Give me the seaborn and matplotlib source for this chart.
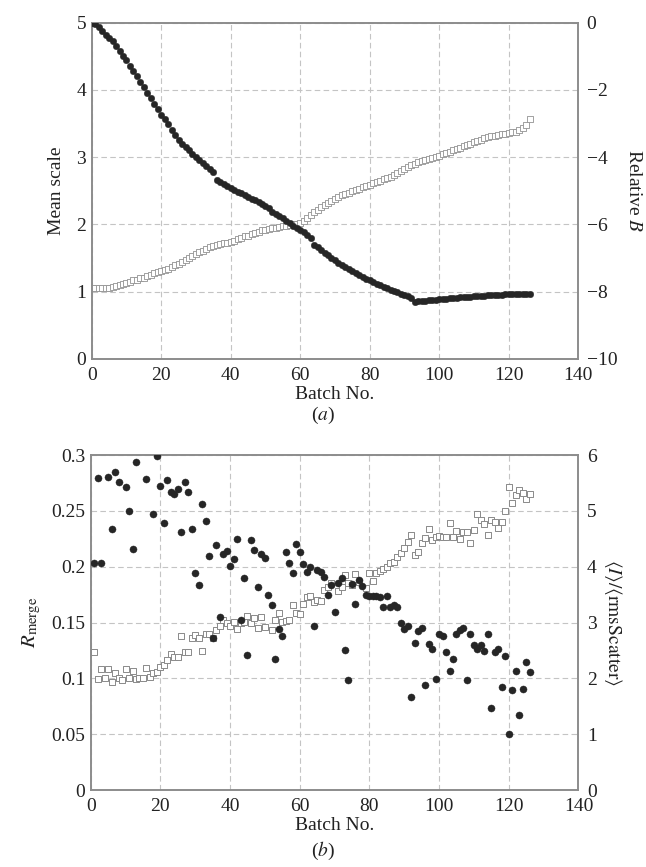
import matplotlib
matplotlib.use("Agg")
import matplotlib.pyplot as plt
import seaborn as sns

# ---- panel (a): mean scale (open squares, left) and relative B (filled circles, right)
batch_a = list(range(127))

mean_scale = [
    1.05, 1.05, 1.05, 1.05, 1.05, 1.06, 1.07, 1.08, 1.10, 1.11,
    1.13, 1.15, 1.17, 1.18, 1.20, 1.21, 1.23, 1.25, 1.27, 1.29,
    1.30, 1.32, 1.34, 1.37, 1.39, 1.41, 1.44, 1.47, 1.50, 1.53,
    1.56, 1.59, 1.61, 1.64, 1.67, 1.68, 1.70, 1.71, 1.72, 1.73,
    1.74, 1.76, 1.78, 1.80, 1.82, 1.83, 1.85, 1.87, 1.89, 1.91,
    1.92, 1.93, 1.94, 1.95, 1.96, 1.97, 1.98, 1.99, 2.00, 2.01,
    2.02, 2.05, 2.09, 2.14, 2.18, 2.22, 2.26, 2.29, 2.32, 2.35,
    2.38, 2.41, 2.43, 2.45, 2.47, 2.49, 2.51, 2.53, 2.55, 2.57,
    2.59, 2.61, 2.63, 2.65, 2.67, 2.69, 2.71, 2.74, 2.77, 2.80,
    2.83, 2.86, 2.88, 2.90, 2.92, 2.94, 2.96, 2.97, 2.99, 3.00,
    3.02, 3.04, 3.06, 3.08, 3.10, 3.12, 3.14, 3.16, 3.18, 3.20,
    3.22, 3.24, 3.26, 3.28, 3.30, 3.31, 3.32, 3.33, 3.34, 3.35,
    3.36, 3.37, 3.38, 3.40, 3.43, 3.47, 3.57,
]

relative_b = [
    0.00, -0.04, -0.12, -0.24, -0.36, -0.46, -0.56, -0.70, -0.84, -0.98,
    -1.12, -1.28, -1.44, -1.60, -1.76, -1.92, -2.08, -2.24, -2.42, -2.58,
    -2.74, -2.88, -3.02, -3.20, -3.34, -3.48, -3.60, -3.70, -3.80, -3.90,
    -4.00, -4.08, -4.18, -4.26, -4.36, -4.44, -4.68, -4.74, -4.80, -4.86,
    -4.92, -4.98, -5.04, -5.08, -5.14, -5.18, -5.24, -5.28, -5.34, -5.40,
    -5.46, -5.50, -5.64, -5.70, -5.76, -5.82, -5.90, -5.96, -6.04, -6.10,
    -6.18, -6.24, -6.32, -6.40, -6.60, -6.68, -6.76, -6.84, -6.92, -7.00,
    -7.07, -7.14, -7.21, -7.28, -7.34, -7.40, -7.46, -7.51, -7.56, -7.61,
    -7.66, -7.71, -7.76, -7.81, -7.86, -7.90, -7.94, -7.98, -8.02, -8.06,
    -8.10, -8.14, -8.18, -8.30, -8.29, -8.28, -8.27, -8.26, -8.25, -8.24,
    -8.23, -8.22, -8.21, -8.20, -8.19, -8.18, -8.17, -8.16, -8.15, -8.15,
    -8.14, -8.13, -8.12, -8.12, -8.11, -8.10, -8.10, -8.09, -8.09, -8.08,
    -8.08, -8.07, -8.07, -8.07, -8.06, -8.06, -8.06,
]

# ---- panel (b): Rmerge (open squares, left) and <I>/<rmsScatter> (filled circles, right)
batch_rmerge = [
    1, 2, 3, 4, 5, 6, 7, 8, 9, 10, 11, 12, 13, 14, 15, 16, 17, 18, 19, 20,
    21, 22, 23, 24, 25, 26, 27, 28, 29, 30, 31, 32, 33, 34, 35, 36, 37, 38, 39, 40,
    41, 42, 43, 44, 45, 46, 47, 48, 49, 50, 52, 53, 54, 55, 56, 57, 58, 59, 60, 61,
    62, 63, 64, 65, 66, 67, 68, 69, 71, 72, 73, 74, 75, 76, 77, 79, 80, 81, 82, 83,
    84, 85, 86, 87, 88, 89, 90, 91, 92, 93, 94, 95, 96, 97, 98, 99, 100, 101, 102, 103,
    104, 105, 106, 107, 108, 109, 110, 111, 112, 113, 114, 115, 116, 117, 118, 119, 120, 121, 122, 123,
    124, 125, 126,
]
rmerge = [
    0.124, 0.0997, 0.1081, 0.1006, 0.1081, 0.097, 0.1051, 0.1006, 0.0985, 0.1084,
    0.1006, 0.1069, 0.0991, 0.100, 0.1006, 0.109, 0.1015, 0.1045, 0.106, 0.1105,
    0.112, 0.1164, 0.1218, 0.1194, 0.1194, 0.1382, 0.1239, 0.1239, 0.1358, 0.1388,
    0.1358, 0.1248, 0.1397, 0.1397, 0.1358, 0.1433, 0.1469, 0.1523, 0.1499, 0.1469,
    0.1508, 0.1445, 0.1493, 0.1508, 0.1561, 0.150, 0.1537, 0.1448, 0.1552, 0.1463,
    0.1433, 0.1523, 0.1588, 0.1508, 0.1517, 0.1523, 0.1657, 0.1582, 0.1577, 0.1666,
    0.1731, 0.1737, 0.1687, 0.1702, 0.1696, 0.179, 0.182, 0.185, 0.1785, 0.182,
    0.1925, 0.185, 0.1836, 0.1934, 0.1866, 0.1806, 0.1946, 0.1875, 0.1946, 0.1964,
    0.1979, 0.200, 0.203, 0.2045, 0.209, 0.2119, 0.2164, 0.2224, 0.2283, 0.2104,
    0.2134, 0.2215, 0.2254, 0.2334, 0.2239, 0.2263, 0.2275, 0.2263, 0.2263, 0.2394,
    0.2263, 0.232, 0.2245, 0.2308, 0.2314, 0.2215, 0.2329, 0.2469, 0.2418, 0.2383,
    0.2284, 0.2418, 0.2403, 0.2349, 0.2403, 0.2499, 0.2711, 0.2568, 0.2642, 0.2687,
    0.2657, 0.2603, 0.2651,
]

batch_isig = [
    1, 2, 3, 5, 6, 7, 8, 10, 11, 12, 13, 16, 18, 19, 20, 21, 22, 23, 24, 25,
    26, 27, 28, 29, 30, 31, 32, 33, 34, 35, 36, 37, 38, 39, 40, 41, 42, 43, 44, 45,
    46, 47, 48, 49, 50, 51, 52, 53, 54, 55, 56, 57, 58, 59, 60, 61, 62, 63, 64, 65,
    66, 67, 68, 69, 70, 71, 72, 73, 74, 75, 76, 77, 78, 79, 80, 81, 82, 83, 84, 85,
    86, 87, 88, 89, 90, 91, 92, 93, 94, 95, 96, 97, 98, 99, 100, 101, 102, 103, 104, 105,
    106, 107, 108, 109, 110, 111, 112, 113, 114, 115, 116, 117, 118, 119, 120, 121, 122, 123, 124, 125,
    126,
]
i_over_scatter = [
    4.07, 5.59, 4.06, 5.60, 4.67, 5.70, 5.51, 5.43, 5.00, 4.31,
    5.88, 5.57, 4.94, 5.98, 5.44, 4.79, 5.56, 5.34, 5.30, 5.39,
    4.62, 5.52, 5.34, 4.67, 3.89, 3.68, 5.12, 4.81, 4.20, 2.72,
    4.39, 3.09, 4.22, 4.28, 4.02, 4.13, 4.50, 3.04, 3.80, 2.41,
    4.47, 4.29, 3.63, 4.22, 4.16, 3.49, 3.31, 2.34, 2.88, 2.76,
    4.27, 4.06, 3.89, 4.40, 4.27, 4.04, 3.91, 4.00, 2.94, 3.94,
    3.90, 3.82, 3.49, 3.67, 3.19, 3.70, 3.80, 2.50, 1.97, 3.69,
    3.34, 3.76, 3.65, 3.50, 3.48, 3.48, 3.48, 3.46, 3.28, 3.48,
    3.28, 3.31, 3.28, 3.00, 2.88, 2.94, 1.67, 2.64, 2.84, 2.91,
    1.88, 2.62, 2.53, 1.98, 2.79, 2.76, 2.47, 2.13, 2.34, 2.79,
    2.87, 2.91, 1.97, 2.79, 2.60, 2.53, 2.60, 2.49, 2.79, 1.47,
    2.48, 2.53, 1.84, 2.40, 1.01, 1.80, 2.14, 1.34, 1.81, 2.30,
    2.11,
]

x_ticks = [0, 20, 40, 60, 80, 100, 120, 140]

sns.set_theme(style="white")
plt.rcParams['font.family'] = ['Liberation Serif', 'DejaVu Serif']
plt.rcParams['mathtext.fontset'] = 'stix'

spine_col = '#8c8c8c'
grid_col = '#c4c4c4'
fs = 14

def style_axes(ax, twin, xpad):
    ax.set_xlim(0, 140)
    ax.set_xticks(x_ticks)
    ax.grid(True, color=grid_col, linestyle=(0, (5, 3)), linewidth=0.8)
    ax.tick_params(axis='y', length=0, labelsize=fs, pad=4, colors='#222222')
    ax.tick_params(axis='x', length=0, labelsize=fs, pad=6, colors='#222222')
    twin.tick_params(axis='y', length=0, labelsize=fs, pad=6, colors='#222222')
    for a in (ax, twin):
        for sp in a.spines.values():
            sp.set_color(spine_col)
            sp.set_linewidth(1.2)
    ax.set_xlabel('Batch No.', fontsize=fs, labelpad=xpad, color='#222222')

fig = plt.figure(figsize=(6.46, 8.67), dpi=100)

# ---------- (a)
ax_a = fig.add_axes([0.142, 0.586, 0.753, 0.388])
ax_a2 = ax_a.twinx()
sns.scatterplot(x=batch_a, y=mean_scale, ax=ax_a, marker='s', s=14,
                color='white', edgecolor='#929292', linewidth=0.6, zorder=3)
sns.scatterplot(x=batch_a, y=relative_b, ax=ax_a2, marker='o', s=22,
                color='#262626', edgecolor='#262626', linewidth=0.3, zorder=3)
ax_a.set_ylim(0, 5)
ax_a.set_yticks([0, 1, 2, 3, 4, 5])
ax_a2.set_ylim(-10, 0)
ax_a2.set_yticks([-10, -8, -6, -4, -2, 0])
ax_a2.set_yticklabels(['\u221210', '\u22128', '\u22126', '\u22124', '\u22122', '0'])
ax_a.set_ylabel('Mean scale', fontsize=fs, labelpad=8, color='#222222')
ax_a2.set_ylabel('Relative $B$', fontsize=fs, rotation=270, labelpad=18, color='#222222')
style_axes(ax_a, ax_a2, 1)
fig.text(0.5, 0.521, '($a$)', ha='center', va='center', fontsize=fs, color='#222222')

# ---------- (b)
ax_b = fig.add_axes([0.1404, 0.0888, 0.755, 0.3864])
ax_b2 = ax_b.twinx()
sns.scatterplot(x=batch_rmerge, y=rmerge, ax=ax_b, marker='s', s=24,
                color='white', edgecolor='#8a8a8a', linewidth=0.7, zorder=3)
sns.scatterplot(x=batch_isig, y=i_over_scatter, ax=ax_b2, marker='o', s=26,
                color='#262626', edgecolor='#262626', linewidth=0.3, zorder=3)
ax_b.set_ylim(0, 0.3)
ax_b.set_yticks([0, 0.05, 0.1, 0.15, 0.2, 0.25, 0.3])
ax_b.set_yticklabels(['0', '0.05', '0.1', '0.15', '0.2', '0.25', '0.3'])
ax_b2.set_ylim(0, 6)
ax_b2.set_yticks([0, 1, 2, 3, 4, 5, 6])
ax_b.set_ylabel(r'$R_{\mathrm{merge}}$', fontsize=fs + 1, labelpad=6, color='#222222')
ax_b2.set_ylabel(r'$\langle I\rangle/\langle\mathrm{rmsScatter}\rangle$', fontsize=fs,
                 rotation=270, labelpad=20, color='#222222')
style_axes(ax_b, ax_b2, 1)
fig.text(0.5, 0.018, '($b$)', ha='center', va='center', fontsize=fs, color='#222222')

fig.savefig('out.png', dpi=100, facecolor='white')
